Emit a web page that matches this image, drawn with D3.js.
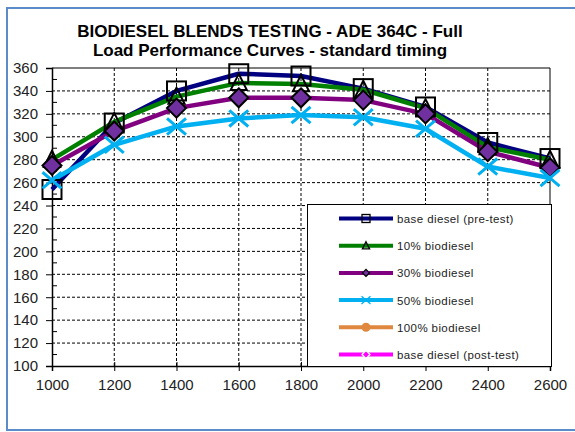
<!DOCTYPE html>
<html><head><meta charset="utf-8">
<script src="https://cdn.jsdelivr.net/npm/d3@7"></script>
<style>body{margin:0;background:#fff}svg{display:block}</style>
</head><body>
<svg id="c" width="575" height="432"></svg>
<script>
const rpm = [1000,1200,1400,1600,1800,2000,2200,2400,2600];
const baseDieselPre = [254,312,340,355,353,342,326,295,281];
const bio10 = [280,313,335,347,346,341,325,291,280];
const bio30 = [275,305,325,334,334,332,320,287,273];
const bio50 = [262,293,309,316,319,317,307,274,264];
const bio100 = [];
const baseDieselPost = [];
const yTicks = [100,120,140,160,180,200,220,240,260,280,300,320,340,360];
const xTicks = [1000,1200,1400,1600,1800,2000,2200,2400,2600];
const seriesNames = ["base diesel (pre-test)","10% biodiesel","30% biodiesel","50% biodiesel","100%  biodiesel","base diesel (post-test)"];
const titleLines = ["BIODIESEL BLENDS TESTING - ADE 364C - Full","Load Performance Curves - standard timing"];

const series = [
  {name:seriesNames[0], values:baseDieselPre, color:"#000080", marker:"square"},
  {name:seriesNames[1], values:bio10, color:"#008000", marker:"triangle"},
  {name:seriesNames[2], values:bio30, color:"#800080", marker:"diamond"},
  {name:seriesNames[3], values:bio50, color:"#00B0F0", marker:"x"},
  {name:seriesNames[4], values:bio100, color:"#E0883F", marker:"circle"},
  {name:seriesNames[5], values:baseDieselPost, color:"#FF00FF", marker:"plus"}
];

const svg = d3.select("#c");
const L=52, R=550, T=68, B=366;
const x = d3.scaleLinear().domain([1000,2600]).range([L,R]);
const y = d3.scaleLinear().domain([100,360]).range([B,T]);
const FONT = "Liberation Sans, Arial, sans-serif";

// outer border
svg.append("rect").attr("x",7).attr("y",8).attr("width",600).attr("height",422)
  .attr("fill","#fff").attr("stroke","#5B8BC9").attr("stroke-width",2);

// title
svg.append("text").attr("x",270).attr("y",37).attr("text-anchor","middle")
  .attr("font-family",FONT).attr("font-weight","bold").attr("font-size",17)
  .attr("fill","#000")
  .selectAll("tspan").data(titleLines).join("tspan")
  .attr("x",270).attr("dy",(d,i)=>i?19:0).text(d=>d);

// gridlines
const g = svg.append("g");
g.selectAll(".hg").data(yTicks.filter(v=>v>100&&v<360)).join("line")
  .attr("x1",L).attr("x2",R).attr("y1",d=>y(d)).attr("y2",d=>y(d))
  .attr("stroke","#000").attr("stroke-width",1).attr("stroke-dasharray","3,2");
g.selectAll(".vg").data(xTicks.filter(v=>v>1000&&v<2600)).join("line")
  .attr("y1",T).attr("y2",B).attr("x1",d=>x(d)).attr("x2",d=>x(d))
  .attr("stroke","#000").attr("stroke-width",1).attr("stroke-dasharray","3,2");
svg.append("path").attr("d",`M${L},${T}H${R}V${B}`).attr("fill","none").attr("stroke","#000").attr("stroke-width",1);

// axes
const yAxis = d3.axisLeft(y).tickValues(yTicks).tickSize(6).tickPadding(8);
const ya = svg.append("g").attr("transform",`translate(${L},0)`).call(yAxis);
ya.select(".domain").attr("stroke-width",1.5);
ya.selectAll("text").attr("font-family",FONT).attr("font-size",15).attr("fill","#222");
const minor = d3.range(110,360,20);
svg.append("g").selectAll("line").data(minor).join("line")
  .attr("x1",L).attr("x2",L+5).attr("y1",d=>y(d)).attr("y2",d=>y(d)).attr("stroke","#000");

const xAxis = d3.axisBottom(x).tickValues(xTicks).tickSize(5).tickPadding(8).tickFormat(d3.format("d"));
const xa = svg.append("g").attr("transform",`translate(0,${B})`).call(xAxis);
xa.select(".domain").attr("stroke-width",1.5);
xa.selectAll(".tick line").attr("y1",-4);
xa.selectAll("text").attr("font-family",FONT).attr("font-size",15).attr("fill","#222");

// lines
const line = d3.line().x((d,i)=>x(rpm[i])).y(d=>y(d));
series.forEach(s=>{
  if(!s.values.length) return;
  svg.append("path").datum(s.values).attr("d",line).attr("fill","none")
    .attr("stroke",s.color).attr("stroke-width",4.5).attr("stroke-linejoin","round");
});

function drawMarker(sel, type, cx, cy, sz, color){
  const h=sz/2;
  if(type==="square") sel.append("rect").attr("x",cx-h).attr("y",cy-h).attr("width",sz).attr("height",sz)
    .attr("fill","none").attr("stroke","#000").attr("stroke-width",2);
  else if(type==="triangle") sel.append("path").attr("d",`M${cx},${cy-h}L${cx+h*0.9},${cy+h*0.8}L${cx-h*0.9},${cy+h*0.8}Z`)
    .attr("fill","none").attr("stroke","#000").attr("stroke-width",2);
  else if(type==="diamond") sel.append("path").attr("d",`M${cx},${cy-h}L${cx+h},${cy}L${cx},${cy+h}L${cx-h},${cy}Z`)
    .attr("fill","#7030A0").attr("stroke","#000").attr("stroke-width",2);
  else if(type==="x") sel.append("path").attr("d",`M${cx-h},${cy-h*0.85}L${cx+h},${cy+h*0.85}M${cx-h},${cy+h*0.85}L${cx+h},${cy-h*0.85}`)
    .attr("stroke",color).attr("stroke-width",3);
  else if(type==="circle") sel.append("circle").attr("cx",cx).attr("cy",cy).attr("r",h).attr("fill",color);
  else if(type==="plus") sel.append("path").attr("d",`M${cx},${cy-h}L${cx+h},${cy}L${cx},${cy+h}L${cx-h},${cy}Z`)
    .attr("fill",color).attr("stroke","#fff").attr("stroke-width",1);
}
series.forEach(s=>{
  const gm = svg.append("g");
  s.values.forEach((v,i)=>drawMarker(gm,s.marker,x(rpm[i]),y(v),s.marker==="triangle"?18:19,s.color));
});

// legend
const lg = svg.append("g");
lg.append("rect").attr("x",307.5).attr("y",204.5).attr("width",244).attr("height",162)
  .attr("fill","#fff").attr("stroke","#000").attr("stroke-width",1);
series.forEach((s,i)=>{
  const yy = 218.5 + i*27.2;
  lg.append("line").attr("x1",339).attr("x2",393).attr("y1",yy).attr("y2",yy)
    .attr("stroke",s.color).attr("stroke-width",4);
  const sz = {square:8,triangle:8,diamond:7,x:9,circle:9,plus:8}[s.marker];
  const mg = lg.append("g");
  drawMarker(mg,s.marker,366,yy,sz,s.color);
  mg.selectAll("rect,path").attr("stroke-width",1.3);
  lg.append("text").attr("x",397).attr("y",yy+4.5).text(s.name)
    .attr("font-family",FONT).attr("font-size",11.5).attr("fill","#222")
    .attr("letter-spacing",0.4);
});
</script>
</body></html>
